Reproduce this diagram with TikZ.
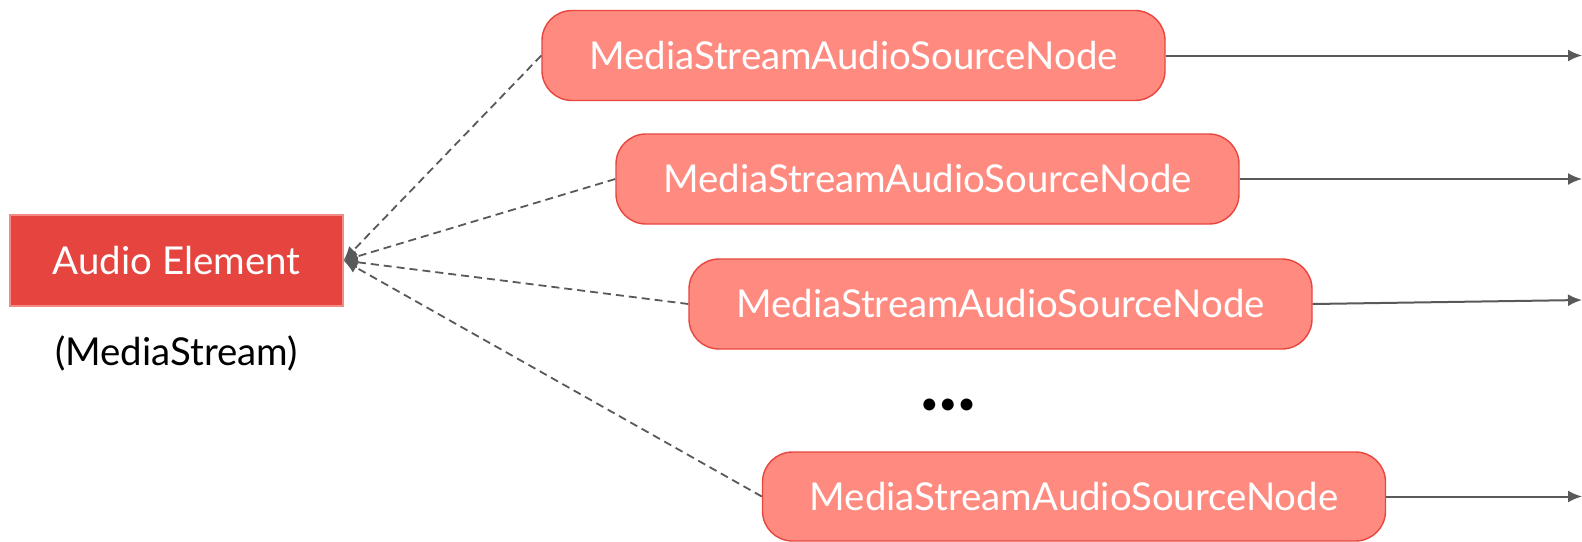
\documentclass[tikz,border=0pt]{standalone}
\usepackage{fontspec}
\setmainfont{Lato}
\usetikzlibrary{arrows.meta,positioning}
\definecolor{elembox}{HTML}{E5443F}
\definecolor{elemline}{HTML}{F28B82}
\definecolor{srcbox}{HTML}{FF8A80}
\definecolor{srcline}{HTML}{E8453F}
\definecolor{linkgray}{HTML}{595959}

\begin{document}
\begin{tikzpicture}[
    x=0.5pt, y=-0.5pt,
    element/.style={rectangle, draw=elemline, fill=elembox, text=white, minimum width=166.5pt, minimum height=45.5pt, line width=0.6pt, font=\fontsize{19.2}{22}\selectfont},
    source/.style={rectangle, draw=srcline, fill=srcbox, text=white, rounded corners=15pt, minimum width=311.5pt, minimum height=45pt, line width=0.7pt, font=\fontsize{19.2}{22}\selectfont},
    caption/.style={font=\fontsize{19.2}{22}\selectfont},
    feed/.style={-{Latex[length=7pt,width=6pt]}, linkgray, line width=0.9pt, dash pattern=on 4pt off 2.5pt},
    arrow/.style={-{Latex[length=7pt,width=6pt]}, linkgray, line width=1pt},
]
    \useasboundingbox (0,0) rectangle (1582,541);

    \node[element] (audio) at (176.5,260.5) {Audio Element};
    \node[caption] (stream) at (176.5,353) {(MediaStream)};

    \node[source] (src1) at (853.5,55.5) {MediaStreamAudioSourceNode};
    \node[source] (src2) at (927.5,179) {MediaStreamAudioSourceNode};
    \node[source] (src3) at (1000.5,304) {MediaStreamAudioSourceNode};
    \node[caption, font=\fontsize{16}{20}\selectfont] (dots) at (948,407) {•••};
    \node[source, minimum height=44.5pt] (src4) at (1074,496.5) {MediaStreamAudioSourceNode};

    \coordinate (out1) at (1582,55.5);
    \coordinate (out2) at (1582,179);
    \coordinate (out3) at (1582,300);
    \coordinate (out4) at (1582,496.5);

    \draw[feed] (src1.west) -- (audio.east);
    \draw[feed] (src2.west) -- (audio.east);
    \draw[feed] (src3.west) -- (audio.east);
    \draw[feed] (src4.west) -- (audio.east);

    \draw[arrow] (src1) -- (out1);
    \draw[arrow] (src2) -- (out2);
    \draw[arrow] (src3.east) -- (out3);
    \draw[arrow] (src4) -- (out4);
\end{tikzpicture}
\end{document}
